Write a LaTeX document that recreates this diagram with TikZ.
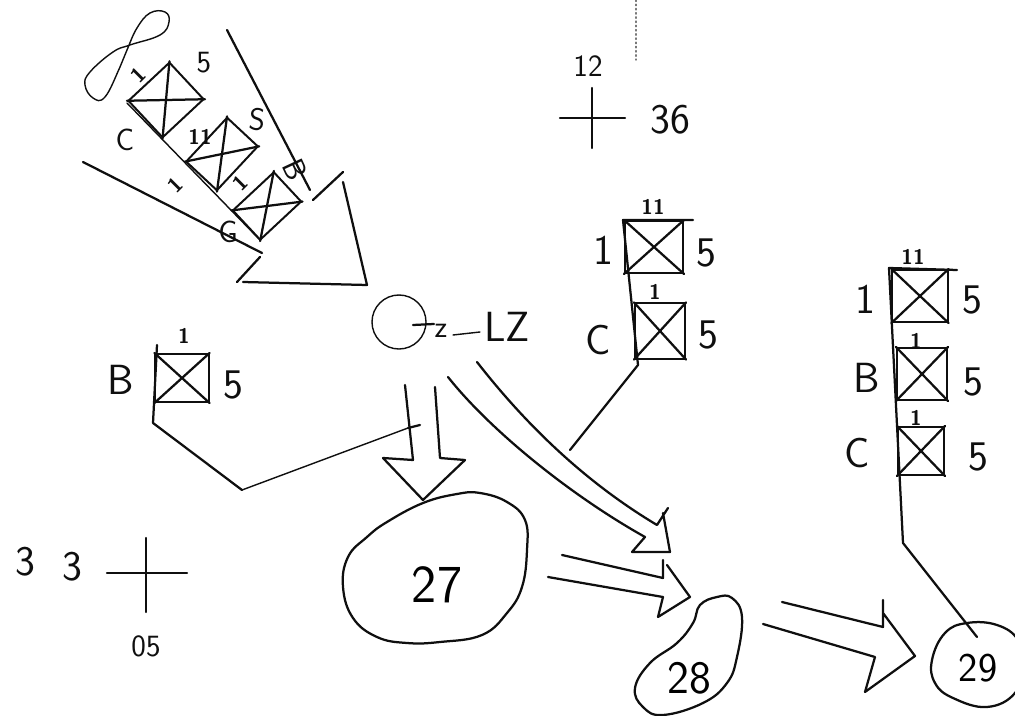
\documentclass[tikz,border=0pt]{standalone}
\usepackage{tikz}
\usetikzlibrary{arrows.meta,positioning,calc}
\definecolor{Ink}{RGB}{15,15,15}
\definecolor{FaintInk}{RGB}{120,120,120}
\tikzset{
  hand/.style={font=\sffamily\fontsize{30}{30}\selectfont,text=Ink,inner sep=0pt},
  handmid/.style={font=\sffamily\fontsize{22}{22}\selectfont,text=Ink,inner sep=0pt},
  handtick/.style={font=\sffamily\bfseries\fontsize{15}{15}\selectfont,text=Ink,inner sep=0pt},
  pen/.style={draw=Ink,line width=1.6pt,line cap=round,line join=round},
  thinpen/.style={draw=Ink,line width=1pt,line cap=round,line join=round},
  blob/.style={pen,smooth cycle,tension=0.6},
  xbox/.style={draw=Ink,rectangle,inner sep=0pt,
    append after command={(\tikzlastnode.south west) edge[pen] (\tikzlastnode.north east)
      (\tikzlastnode.north west) edge[pen] (\tikzlastnode.south east)}}
}
\begin{document}
\begin{tikzpicture}[x=0.025cm,y=-0.025cm,line width=1.4pt]
\useasboundingbox (0,0) rectangle (1015,716);

\draw[thinpen,draw=FaintInk,dotted] (636,0) -- (636,60);

\node[xbox,minimum width=1.4cm,minimum height=1.25cm,rotate=43] (boxC1) at (166,100) {};
\node[xbox,minimum width=1.5cm,minimum height=1.05cm,rotate=47] (boxI1) at (222,154) {};
\node[xbox,minimum width=1.4cm,minimum height=1cm,rotate=43] (boxB1) at (267,206) {};
\node[handmid] (labC1) at (125,140) {C};
\node[handmid] (labFive1) at (204,63) {5};
\node[handtick,rotate=45] (tickA1) at (138,75) {1};
\node[handtick] (tickB1) at (200,137) {11};
\node[handmid,rotate=-5] (labS1) at (257,120) {S};
\node[handtick,rotate=45] (tickC1) at (175,185) {1};
\node[handtick,rotate=45] (tickD1) at (240,183) {1};
\node[handmid,rotate=-65] (labB1) at (295,170) {B};
\node[handmid] (labG1) at (228,232) {G};
\draw[thinpen] plot[smooth cycle,tension=0.7] coordinates {(127,50) (137,28) (150,13) (165,12) (169,22) (160,35) (130,45) (113,52) (90,72) (85,85) (93,98) (105,97) (120,67)};
\coordinate (spineTop) at (127,103);
\coordinate (spineEnd) at (260,240);
\draw[thinpen] (spineTop) -- (spineEnd);
\draw[pen] (227,30) -- (310,190) (313,200) -- (343,172) (343,182) -- (367,285) -- (243,282) (237,282) -- (260,257) (262,253) -- (83,162);

\node[draw=Ink,circle,thinpen,minimum size=1.35cm,inner sep=0pt] (hub) at (399,322) {};
\node[handmid] (labZ) at (441,331) {z};
\node[hand] (labLZ) at (507,327) {LZ};
\draw[pen] (413,325) -- (434,324);
\coordinate (dashL) at (453,335);
\coordinate (dashR) at (480,332);
\draw[thinpen] (dashL) -- (dashR);

\node[xbox,minimum width=1.33cm,minimum height=1.2cm] (boxB) at (182,378) {};
\node[hand] (labB) at (121,380) {B};
\node[hand] (labFiveB) at (233,385) {5};
\node[handtick] (tickB) at (184,336) {1};
\coordinate (spineB) at (157,345);
\coordinate (bendB) at (153,423);
\coordinate (kneeB) at (242,490);
\coordinate (hitB) at (408,428);
\draw[pen] (spineB) -- (bendB) -- (kneeB);
\draw[thinpen] (kneeB) -- (hitB);

\draw[pen] (405,385) -- (413,460) -- (383,458) -- (423,500) -- (465,460) -- (440,458) -- (435,387);
\draw[pen] (408,428) -- (420,425);

\draw[pen] (477,362) .. controls (530,430) and (590,485) .. (657,525) -- (668,508) (663,513) -- (670,552) -- (632,552) -- (645,537) .. controls (570,495) and (490,430) .. (448,377);

\draw[blob] plot[smooth cycle,tension=0.7] coordinates {(423,503) (457,494) (480,493) (507,502) (525,520) (527,550) (522,587) (507,613) (482,635) (440,642) (407,643) (377,637) (353,618) (343,587) (348,557) (367,537) (387,522)};
\node[font=\sffamily\fontsize{38}{38}\selectfont,inner sep=0pt] (n27) at (437,585) {27};

\draw[pen] (562,555) -- (663,578) -- (663,560) (667,565) -- (690,597) -- (658,617) -- (663,597) -- (548,577);

\draw[blob] plot[smooth cycle,tension=0.7] coordinates {(700,605) (717,597) (732,598) (742,617) (737,657) (727,683) (703,703) (663,715) (643,707) (635,688) (650,663) (677,643) (693,623)};
\node[font=\sffamily\fontsize{33}{33}\selectfont,inner sep=0pt] (n28) at (689,678) {28};

\draw[pen] (782,602) -- (883,627) -- (883,600) (883,613) -- (915,656) -- (865,692) -- (875,657) -- (763,624);

\draw[blob] plot[smooth cycle,tension=0.7] coordinates {(967,623) (997,625) (1018,640) (1022,665) (1015,693) (987,707) (953,698) (935,683) (932,660) (945,633)};
\node[font=\sffamily\fontsize{29}{29}\selectfont,inner sep=0pt] (n29) at (978,668) {29};

\node[hand] (labThreeA) at (25,562) {3};
\node[hand] (labThreeB) at (72,567) {3};
\coordinate (crossLT) at (107,573);
\coordinate (crossRT) at (187,573);
\coordinate (crossUp) at (146,538);
\coordinate (crossDn) at (146,612);
\draw[pen] (crossLT) -- (crossRT) (crossUp) -- (crossDn);
\node[handmid] (labFive) at (146,646) {05};

\node[handmid] (labTwelve) at (588,66) {12};
\coordinate (crossTwL) at (560,118);
\coordinate (crossTwR) at (625,118);
\coordinate (crossTwU) at (592,88);
\coordinate (crossTwD) at (592,148);
\draw[pen] (crossTwL) -- (crossTwR) (crossTwU) -- (crossTwD);
\node[hand] (labSix) at (670,120) {36};

\node[xbox,minimum width=1.45cm,minimum height=1.3cm] (boxI) at (654,247) {};
\node[xbox,minimum width=1.25cm,minimum height=1.38cm] (boxC) at (660,331) {};
\node[handtick] (tickI) at (653,207) {11};
\node[hand] (labI) at (603,250) {1};
\node[hand] (labFiveI) at (706,253) {5};
\node[handtick] (tickC) at (655,292) {1};
\node[hand] (labC) at (598,340) {C};
\node[hand] (labFiveC) at (708,335) {5};
\coordinate (spineMid) at (623,220);
\coordinate (topMid) at (693,220);
\coordinate (bendMid) at (638,365);
\coordinate (endMid) at (570,450);
\draw[pen] (topMid) -- (spineMid) -- (bendMid) -- (endMid);

\node[xbox,minimum width=1.38cm,minimum height=1.3cm] (rboxI) at (920,296) {};
\node[xbox,minimum width=1.25cm,minimum height=1.3cm] (rboxB) at (922,374) {};
\node[xbox,minimum width=1.15cm,minimum height=1.2cm] (rboxC) at (921,451) {};
\node[handtick] (rtickI) at (913,257) {11};
\node[handtick] (rtickB) at (916,341) {1};
\node[handtick] (rtickC) at (916,418) {1};
\node[hand] (rlabI) at (865,299) {1};
\node[hand] (rlabB) at (867,378) {B};
\node[hand] (rlabC) at (857,453) {C};
\node[hand] (rlabFiveI) at (972,300) {5};
\node[hand] (rlabFiveB) at (973,382) {5};
\node[hand] (rlabFiveC) at (978,457) {5};
\coordinate (spineR) at (889,268);
\coordinate (topR) at (957,270);
\coordinate (bendR) at (903,543);
\coordinate (endR) at (977,637);
\draw[pen] (topR) -- (spineR) -- (bendR) -- (endR);
\end{tikzpicture}
\end{document}
